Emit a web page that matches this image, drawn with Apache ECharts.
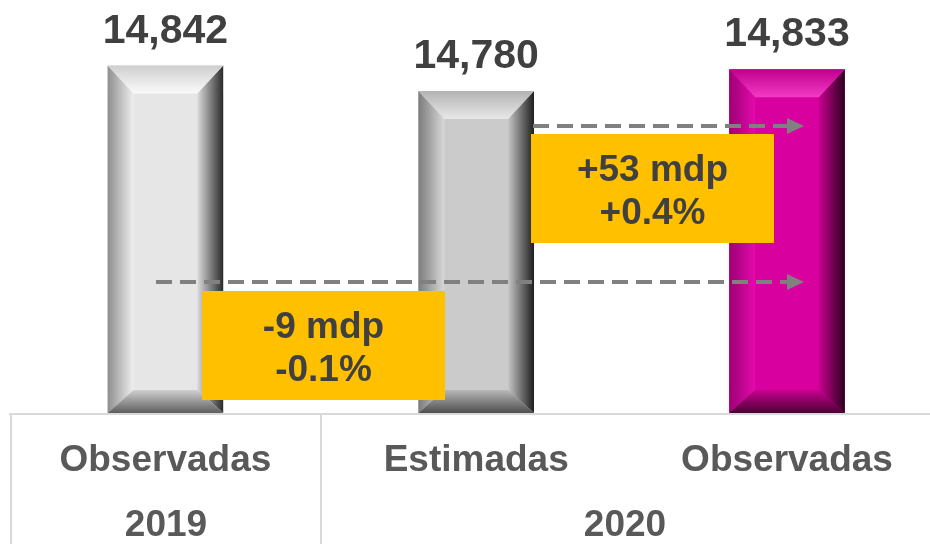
<!DOCTYPE html>
<html>
<head>
<meta charset="utf-8">
<script src="https://cdn.jsdelivr.net/npm/echarts@6/dist/echarts.min.js"></script>
<style>
  html, body { margin: 0; padding: 0; background: #fff; }
  #main { width: 930px; height: 544px; }
</style>
</head>
<body>
<div id="main"></div>
<script>
// datos
const categories = ['Observadas', 'Estimadas', 'Observadas'];
const years = ['2019', '2020'];
const values = [14842, 14780, 14833];
const valueLabels = ['14,842', '14,780', '14,833'];
const changeLabels = ['-9 mdp\n-0.1%', '+53 mdp\n+0.4%'];

const axisMin = 14000;

// colores de cada barra (cara, biseles)
const palettes = [
  { face: '#e6e6e6', top: ['#cfcfcf', '#fafafa'], left: ['#8e8e8e', '#efefef'], right: ['#dcdcdc', '#2a2a2a'], bottom: ['#d0d0d0', '#5e5e5e'] },
  { face: '#cbcbcb', top: ['#b3b3b3', '#e8e8e8'], left: ['#7c7c7c', '#d8d8d8'], right: ['#c6c6c6', '#1e1e1e'], bottom: ['#b8b8b8', '#4e4e4e'] },
  { face: '#d900a0', top: ['#c0008e', '#f23ac4'], left: ['#9c0074', '#e30aab'], right: ['#c8008f', '#2c001f'], bottom: ['#c8008f', '#4a0034'] }
];

const fontFamily = '"Liberation Sans", Arial, sans-serif';

function grad(horizontal, c0, c1) {
  return new echarts.graphic.LinearGradient(0, 0, horizontal ? 1 : 0, horizontal ? 0 : 1, [
    { offset: 0, color: c0 },
    { offset: 1, color: c1 }
  ]);
}

function renderBar(params, api) {
  const i = params.dataIndex;
  const p = palettes[i];
  const top = api.coord([api.value(0), api.value(1)]);
  const base = api.coord([api.value(0), axisMin]);
  const w = api.size([1, 0])[0] * 0.372;
  const x0 = top[0] - w / 2, x1 = top[0] + w / 2;
  const y0 = top[1], y1 = base[1] - 1;
  const b = 26, bt = 28, bb = 23;
  const ix0 = x0 + b, ix1 = x1 - b, iy0 = y0 + bt, iy1 = y1 - bb;
  return {
    type: 'group',
    children: [
      { type: 'rect', shape: { x: x0, y: y0, width: w, height: y1 - y0 }, style: { fill: p.face } },
      { type: 'polygon', shape: { points: [[x0, y0], [ix0, iy0], [ix0, iy1], [x0, y1]] }, style: { fill: grad(true, p.left[0], p.left[1]) } },
      { type: 'polygon', shape: { points: [[x1, y0], [x1, y1], [ix1, iy1], [ix1, iy0]] }, style: { fill: grad(true, p.right[0], p.right[1]) } },
      { type: 'polygon', shape: { points: [[x0, y0], [x1, y0], [ix1, iy0], [ix0, iy0]] }, style: { fill: grad(false, p.top[0], p.top[1]) } },
      { type: 'polygon', shape: { points: [[ix0, iy1], [ix1, iy1], [x1, y1], [x0, y1]] }, style: { fill: grad(false, p.bottom[0], p.bottom[1]) } },
      {
        type: 'text',
        style: {
          text: valueLabels[i], x: top[0], y: y0 - 34,
          align: 'center', verticalAlign: 'middle',
          fontFamily: fontFamily, fontWeight: 'bold', fontSize: 41, fill: '#404040'
        }
      },
      {
        type: 'text',
        style: {
          text: categories[i], x: top[0], y: base[1] + 47,
          align: 'center', verticalAlign: 'middle',
          fontFamily: fontFamily, fontWeight: 'bold', fontSize: 37, fill: '#595959'
        }
      }
    ]
  };
}

const chart = echarts.init(document.getElementById('main'));

function arrow(y, xStart, xTip) {
  return [
    {
      type: 'line', z: 100,
      shape: { x1: xStart, y1: y, x2: xTip - 15, y2: y },
      style: { stroke: '#808080', lineWidth: 4, lineDash: [16, 8] }
    },
    {
      type: 'polygon', z: 100,
      shape: { points: [[xTip - 17, y - 8], [xTip, y], [xTip - 17, y + 8]] },
      style: { fill: '#808080' }
    }
  ];
}

function box(x, y, text) {
  return [
    { type: 'rect', z: 101, shape: { x: x, y: y, width: 243, height: 109 }, style: { fill: '#ffc000' } },
    {
      type: 'text', z: 102,
      style: {
        text: text, x: x + 121.5, y: y + 58, align: 'center', verticalAlign: 'middle',
        fontFamily: fontFamily, fontWeight: 'bold', fontSize: 37, lineHeight: 43, fill: '#404040'
      }
    }
  ];
}

const option = {
  animation: false,
  grid: { left: 10, right: 0, top: -4, bottom: 130 },
  xAxis: {
    type: 'value',
    min: -0.5,
    max: 2.46,
    axisTick: { show: false },
    axisLabel: { show: false },
    splitLine: { show: false },
    axisLine: { show: true, lineStyle: { color: '#d9d9d9', width: 2 } }
  },
  yAxis: {
    type: 'value', min: axisMin, max: 15000, show: false
  },
  series: [{
    type: 'custom',
    renderItem: renderBar,
    data: values.map((v, i) => [i, v]),
    encode: { x: 0, y: 1 },
    clip: false
  }],
  graphic: [
    { type: 'line', z: 90, shape: { x1: 11, y1: 414, x2: 11, y2: 544 }, style: { stroke: '#d9d9d9', lineWidth: 2 } },
    { type: 'line', z: 90, shape: { x1: 321, y1: 414, x2: 321, y2: 544 }, style: { stroke: '#d9d9d9', lineWidth: 2 } },
    {
      type: 'text', z: 90,
      style: { text: years[0], x: 166, y: 526, align: 'center', verticalAlign: 'middle', fontFamily: fontFamily, fontWeight: 'bold', fontSize: 37, fill: '#595959' }
    },
    {
      type: 'text', z: 90,
      style: { text: years[1], x: 625, y: 526, align: 'center', verticalAlign: 'middle', fontFamily: fontFamily, fontWeight: 'bold', fontSize: 37, fill: '#595959' }
    },
    ...arrow(126, 533, 804),
    ...arrow(282, 156, 804),
    ...box(202, 291, changeLabels[0]),
    ...box(531, 134, changeLabels[1])
  ]
};

chart.setOption(option);
</script>
</body>
</html>
